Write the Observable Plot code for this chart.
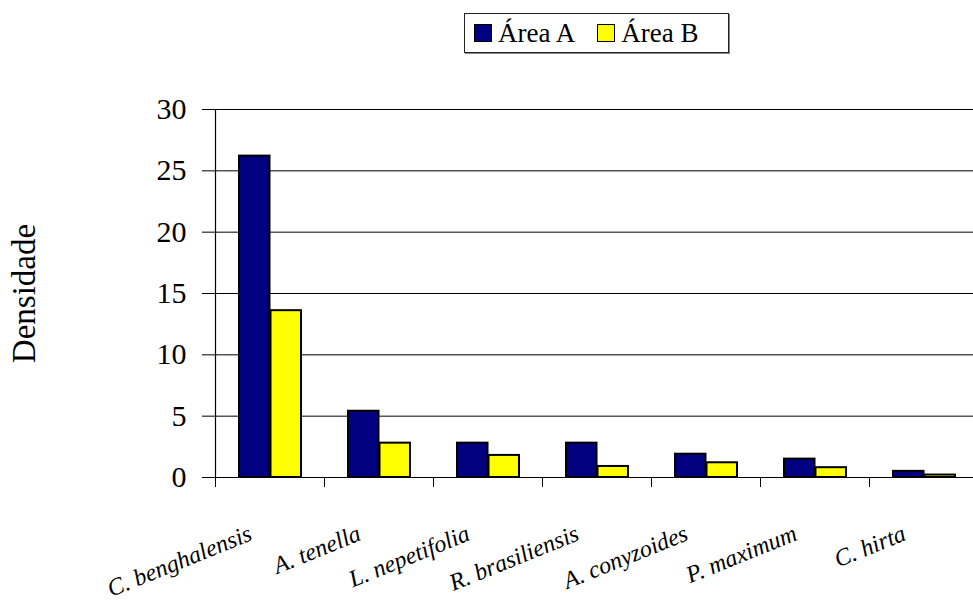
<!DOCTYPE html>
<html>
<head>
<meta charset="utf-8">
<script src="https://cdn.jsdelivr.net/npm/d3@7"></script>
<script src="https://cdn.jsdelivr.net/npm/@observablehq/plot@0.6"></script>
<style>
  html, body { margin: 0; padding: 0; background: #fff; overflow: hidden; }
  #top { position: relative; height: 66px; width: 973px; }
  #legend {
    position: absolute; left: 464px; top: 13px; width: 263px; height: 38px;
    border: 1px solid #222; box-shadow: 1px 1px 0 #888;
    display: flex; align-items: center;
    font-family: "Liberation Serif", "Tinos", "Times New Roman", "Times", "Noto Serif", "DejaVu Serif", "FreeSerif", serif; font-size: 27px; color: #000;
  }
  .item { display: flex; align-items: center; }
  .sw { width: 16px; height: 16px; border: 1.5px solid #000; margin-right: 6px; }
</style>
</head>
<body>
<div id="top"><div id="legend"></div></div>
<div id="chart"></div>
<script>
const species = ["C. benghalensis", "A. tenella", "L. nepetifolia", "R. brasiliensis", "A. conyzoides", "P. maximum", "C. hirta"];
const seriesNames = ["Área A", "Área B"];
const areaA = [26.2, 5.4, 2.8, 2.8, 1.9, 1.5, 0.5];
const areaB = [13.6, 2.8, 1.8, 0.9, 1.2, 0.8, 0.2];
const yTicks = [0, 5, 10, 15, 20, 25, 30];
const yLabel = "Densidade";
const colors = ["#000080", "#FFFF00"];
const serif = "\"Liberation Serif\", \"Tinos\", \"Times New Roman\", \"Times\", \"Noto Serif\", \"DejaVu Serif\", \"FreeSerif\", serif";

// legend
const legend = document.getElementById("legend");
seriesNames.forEach((name, i) => {
  const it = document.createElement("div");
  it.className = "item";
  it.style.marginLeft = i === 0 ? "9px" : "22px";
  const sw = document.createElement("div");
  sw.className = "sw";
  sw.style.background = colors[i];
  const t = document.createElement("span");
  t.textContent = name;
  it.appendChild(sw); it.appendChild(t);
  legend.appendChild(it);
});

const dataA = species.map((s, i) => ({species: s, value: areaA[i]}));
const dataB = species.map((s, i) => ({species: s, value: areaB[i]}));

const chart = Plot.plot({
  width: 973,
  height: 545,
  marginLeft: 212,
  marginRight: 0,
  marginTop: 43,
  marginBottom: 134,
  style: {fontFamily: serif, fontSize: "30px", color: "#000", background: "#fff"},
  x: {domain: species, range: [212, 982], paddingInner: 0.427, paddingOuter: 0.2136},
  y: {domain: [0, 30]},
  marks: [
    Plot.gridY(yTicks.filter(d => d > 0), {stroke: "#000", strokeOpacity: 1, strokeWidth: 1}),
    Plot.ruleY([0], {stroke: "#000", strokeWidth: 1}),
    Plot.axisY(yTicks, {tickSize: 10, tickPadding: 16, fontSize: 30, label: null}),
    Plot.ruleX([species[0]], {dx: -55, y1: 0, y2: 30, stroke: "#000", strokeWidth: 1.2}),
    Plot.axisX({tickSize: 10, tickFormat: () => "", label: null, dx: -55}),
    Plot.barY(dataA, {x: "species", y: "value", fill: colors[0], stroke: "#000", strokeWidth: 2, insetRight: 31.5}),
    Plot.barY(dataB, {x: "species", y: "value", fill: colors[1], stroke: "#000", strokeWidth: 2, insetLeft: 31.5}),
    Plot.text(species, {x: d => d, y: 0, text: d => d, rotate: -22, textAnchor: "end", lineAnchor: "bottom", dx: -17, dy: 62, fontSize: 24, fontStyle: "italic"}),
    Plot.text([yLabel], {frameAnchor: "left", text: d => d, rotate: -90, textAnchor: "middle", lineAnchor: "middle", dx: -188, fontSize: 33})
  ]
});
document.getElementById("chart").appendChild(chart);
</script>
</body>
</html>
